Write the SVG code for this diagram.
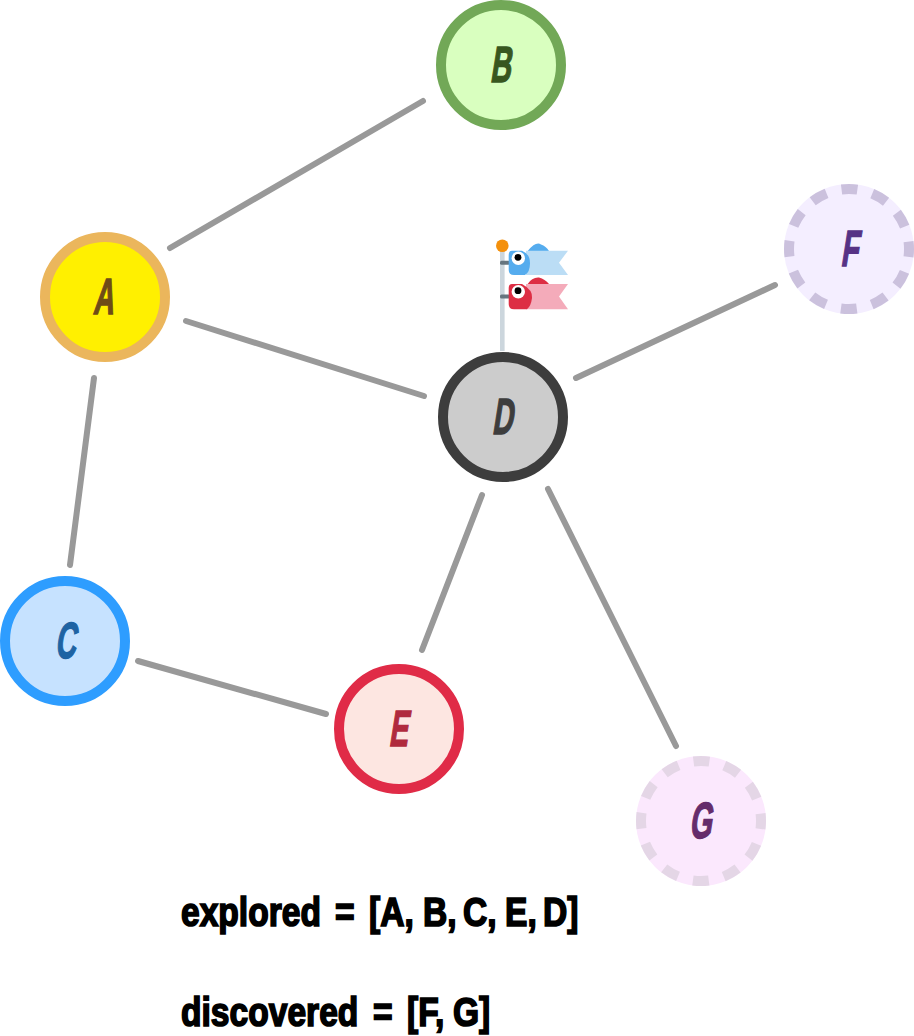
<svg xmlns="http://www.w3.org/2000/svg" width="914" height="1036" viewBox="0 0 914 1036">
<style>
.n{stroke-width:10}
.d{stroke-dasharray:16 15.416;stroke-dashoffset:8;fill:none}
.l{font-family:"Liberation Sans",Arial,sans-serif;font-weight:700;font-size:51px;text-anchor:middle;stroke-width:1.5}
.e{stroke:#999;stroke-width:6;stroke-linecap:round;fill:none}
.t{font-family:"Liberation Sans",Arial,sans-serif;font-weight:700;font-size:40px;fill:#000;stroke:#000;stroke-width:1.7}
</style>
<defs>
<g id="fish-eye"><circle r="6.7" fill="#fff"/><circle cx="-.3" cy="-1" r="3.4" fill="#000"/></g>
</defs>
<g id="connectors" class="e">
<line x1="170" y1="248" x2="423" y2="101"/>
<line x1="186" y1="321" x2="424" y2="396"/>
<line x1="94" y1="378" x2="70" y2="565"/>
<line x1="138" y1="661" x2="326" y2="714"/>
<line x1="482" y1="495" x2="422" y2="650"/>
<line x1="548" y1="489" x2="676" y2="746"/>
<line x1="576" y1="378" x2="775" y2="285"/>
</g>
<g id="flag">
<rect x="500" y="246" width="4.6" height="105" fill="#CCD6DD"/>
<circle cx="502.3" cy="245.7" r="6.3" fill="#F4900C"/>
<rect x="500" y="260.7" width="10" height="4" rx="1.5" fill="#66757F"/>
<rect x="500" y="294.5" width="10" height="4" rx="1.5" fill="#66757F"/>
<path d="M527.7 251Q536 241 541 244.5Q546 246 549 251Z" fill="#55ACEE"/>
<path d="M526 250.7H568L559 262.7L568 275H526Z" fill="#BBDDF5"/>
<path d="M512 250.7H522Q530 254 530 263Q530 272 525 275H514Q508.7 275 508.7 270V255Q508.7 250.7 512 250.7Z" fill="#55ACEE"/>
<use href="#fish-eye" x="518.3" y="258.3"/>
<path d="M527.7 284Q532 277 539 277.5Q545 279 549 284Z" fill="#DD2E44"/>
<path d="M526 284H568L559 296.5L568 309.3H526Z" fill="#F4ABBA"/>
<path d="M512 284H522Q533 290 532 298Q531 306 527 309.3H514Q508.7 309.3 508.7 304V288Q508.7 284 512 284Z" fill="#DD2E44"/>
<use href="#fish-eye" x="518.3" y="291.7"/>
</g>
<g id="node-A"><circle class="n" cx="105" cy="297" r="60" fill="#FFF000" stroke="#EBB65C"/><text class="l" transform="translate(103 314) skewX(-9) scale(.56 1)" fill="#6E4B17" stroke="#6E4B17">A</text></g>
<g id="node-B"><circle class="n" cx="501" cy="65" r="60" fill="#D9FFBF" stroke="#72A857"/><text class="l" transform="translate(500 82) skewX(-9) scale(.56 1)" fill="#38571F" stroke="#38571F">B</text></g>
<g id="node-C"><circle class="n" cx="65" cy="641" r="60" fill="#C6E2FF" stroke="#2E9DFF"/><text class="l" transform="translate(65 658) skewX(-9) scale(.56 1)" fill="#1E63A3" stroke="#1E63A3">C</text></g>
<g id="node-D"><circle class="n" cx="503" cy="417" r="60" fill="#CCCCCC" stroke="#3D3D3D"/><text class="l" transform="translate(502 434) skewX(-9) scale(.56 1)" fill="#3D3D3D" stroke="#3D3D3D">D</text></g>
<g id="node-E"><circle class="n" cx="399" cy="729" r="60" fill="#FDE6E1" stroke="#E02B47"/><text class="l" transform="translate(398 746) skewX(-9) scale(.56 1)" fill="#B02A3D" stroke="#B02A3D">E</text></g>
<g id="node-F"><circle cx="849" cy="249" r="65" fill="#F4EEFF"/><circle class="n d" cx="849" cy="249" r="60" stroke="#CBC1DD"/><text class="l" transform="translate(849 266) skewX(-9) scale(.56 1)" fill="#563285" stroke="#563285">F</text></g>
<g id="node-G"><circle cx="701" cy="821" r="65" fill="#FBE8FD"/><circle class="n d" cx="701" cy="821" r="60" stroke="#E4D6E6"/><text class="l" transform="translate(700 838) skewX(-9) scale(.56 1)" fill="#652C6B" stroke="#652C6B">G</text></g>
<text class="t" transform="translate(181 926) scale(.84 1)" xml:space="preserve">explored <tspan x="183.3">= </tspan><tspan x="223.8">[A, </tspan><tspan x="288.1">B, </tspan><tspan x="335.7">C, </tspan><tspan x="385.7">E, </tspan><tspan x="431">D]</tspan></text>
<text class="t" transform="translate(181 1026) scale(.84 1)" xml:space="preserve">discovered <tspan x="228.6">= </tspan><tspan x="269">[F, </tspan><tspan x="323.8">G]</tspan></text>
</svg>
